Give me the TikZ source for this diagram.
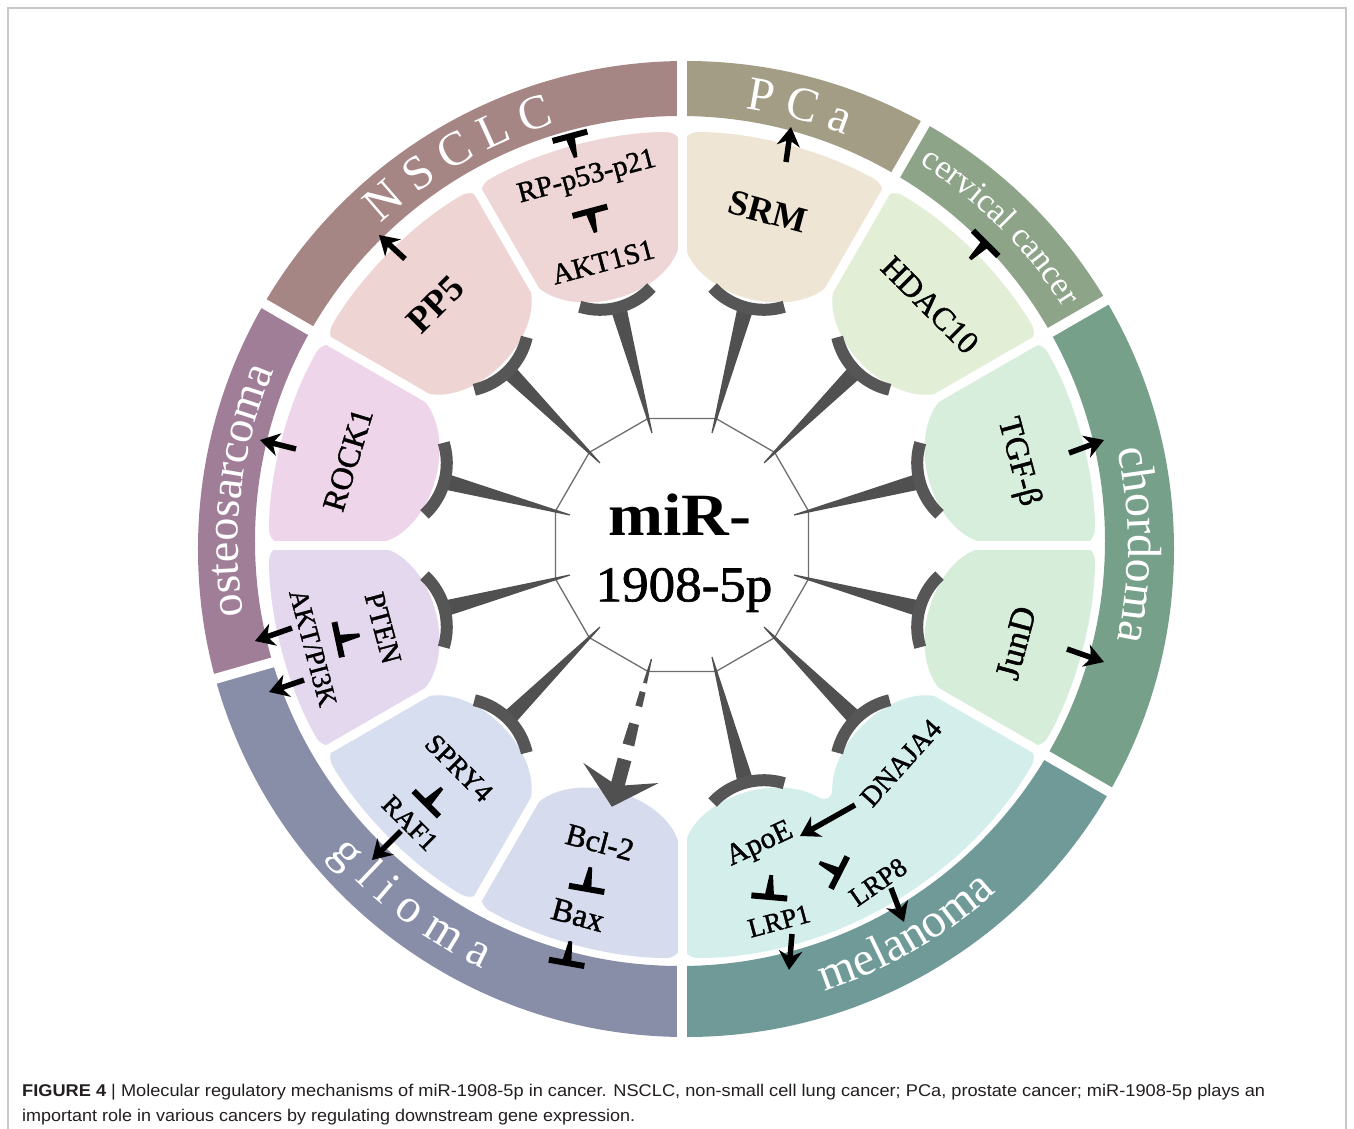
\documentclass[tikz,border=0pt]{standalone}
\usepackage{fontspec}
\setmainfont{Liberation Serif}
\newfontfamily\medfont[FakeBold=1.3]{Liberation Serif}
\newfontfamily\capfont{Liberation Sans}
\usepackage{graphicx}
\usetikzlibrary{arrows.meta,decorations.text}
\definecolor{cNSCLC}{HTML}{A68585}
\definecolor{cPCa}{HTML}{A39D85}
\definecolor{cCerv}{HTML}{8DA489}
\definecolor{cChord}{HTML}{76A08A}
\definecolor{cMel}{HTML}{6F9A98}
\definecolor{cGli}{HTML}{888DA8}
\definecolor{cOst}{HTML}{A07E98}
\definecolor{bPP}{HTML}{EED4D2}
\definecolor{bAKT}{HTML}{EFD6D6}
\definecolor{bSRM}{HTML}{EEE5D4}
\definecolor{bHDAC}{HTML}{E2EED6}
\definecolor{bTGF}{HTML}{D8EEDC}
\definecolor{bJun}{HTML}{D6EED9}
\definecolor{bMel}{HTML}{D4EEEC}
\definecolor{bBcl}{HTML}{D6DBEE}
\definecolor{bSPRY}{HTML}{D7DEF0}
\definecolor{bPTEN}{HTML}{E4D8EE}
\definecolor{bROCK}{HTML}{EED5EA}
\definecolor{spkc}{HTML}{505050}
\definecolor{tbc}{HTML}{565656}
\definecolor{dodc}{HTML}{6E6E6E}
\definecolor{framec}{HTML}{C8C8C8}
\definecolor{captc}{HTML}{231F20}
\newcommand\fsz[1]{\fontsize{#1pt}{#1pt}\selectfont}
\newcommand\bandXL{\fontsize{48pt}{48pt}\selectfont\color{white}}
\newcommand\bandL{\fontsize{46pt}{46pt}\selectfont\color{white}}
\newcommand\bandS{\fontsize{34pt}{34pt}\selectfont\color{white}}
\newcommand\drawblock[2]{\fill[#2,rotate=#1,rounded corners=16pt] (-15:413) arc[start angle=-15,end angle=15,radius=413] -- (15:300.5) arc[start angle=135,end angle=225,radius=110] -- cycle;}
\begin{document}
\begin{tikzpicture}[x=1pt,y=1pt,
  lbl/.style={inner sep=0pt,text=black},
  arw/.style={draw=black,line width=5.5pt,-{Stealth[length=19pt,width=23pt,inset=6pt]}},
  bandtext/.style={decorate,decoration={text along path,text align=center,text={#1}}},
  inh/.pic={\fill[black] (-18pt,5pt) rectangle (18pt,11pt);
            \fill[black] (-4.5pt,6pt) -- (4.5pt,6pt) -- (1.8pt,-14pt) -- (-1.8pt,-14pt) -- cycle;}]
\useasboundingbox (-682,-583) rectangle (672,545);
\fill[white] (-682,-583) rectangle (672,545);

% ---- outer ring bands
\foreach \a/\b/\c in {90/150/cNSCLC,60/90/cPCa,30/60/cCerv,-30/30/cChord,270/330/cMel,196/270/cGli,150/196/cOst}{
  \begin{scope}
    \clip (0,0) -- (\a:700) arc[start angle=\a,end angle=\b,radius=700] -- cycle;
    \fill[\c,even odd rule] (4,-4) circle[radius=488] (-2,4) circle[radius=425];
  \end{scope}
}
\foreach \a in {90,60,30,-30,270,196,150}
  \draw[white,line width=10pt] (\a:415) -- (\a:505);

% ---- blocks
\drawblock{15}{bTGF}
\drawblock{45}{bHDAC}
\drawblock{75}{bSRM}
\drawblock{105}{bAKT}
\drawblock{135}{bPP}
\drawblock{165}{bROCK}
\drawblock{195}{bPTEN}
\drawblock{225}{bSPRY}
\drawblock{255}{bBcl}
\drawblock{345}{bJun}
\fill[bMel,rounded corners=16pt] (270:413) arc[start angle=270,end angle=330,radius=413] -- (330:300.5)
  arc[start angle=450,end angle=540,radius=110] arc[start angle=420,end angle=510,radius=110] -- cycle;
\foreach \a in {0,30,60,90,120,150,180,210,240,270,330}
  \draw[white,line width=9pt] (\a:275) -- (\a:419);

% ---- central dodecagon
\draw[dodc,line width=1.3pt] (15:131) -- (45:131) -- (75:131) -- (105:131) -- (135:131) -- (165:131)
  -- (195:131) -- (225:131) -- (255:131) -- (285:131) -- (315:131) -- (345:131) -- cycle;

% ---- spikes with inhibition bars
\foreach \a in {15,45,75,105,135,165,195,225,285,315,345}{
  \begin{scope}[rotate=\a]
    \fill[spkc] (116,-0.6) -- (246,-8) -- (246,8) -- (116,0.6) -- cycle;
    \draw[tbc,line width=12pt] (256.6,37.1) arc[start angle=148,end angle=212,radius=70];
  \end{scope}
}
% ---- dashed activation arrow to Bcl-2
\begin{scope}[rotate=255]
  \fill[spkc] (118,-0.6) -- (143,-2) -- (143,2) -- (118,0.6) -- cycle;
  \fill[spkc] (152,-3) -- (167,-3.5) -- (167,3.5) -- (152,3) -- cycle;
  \fill[spkc] (185,-5) -- (207,-6) -- (207,6) -- (185,5) -- cycle;
  \fill[spkc] (271,0) -- (236,39) -- (247,7) -- (222,7) -- (222,-7) -- (247,-7) -- (236,-39) -- cycle;
\end{scope}

% ---- band labels
\path[bandtext={|\bandXL|N S C L C}] (150:440) arc[start angle=150,end angle=90,radius=440];
\path[bandtext={|\bandXL|P C a}] (90:441) arc[start angle=90,end angle=60,radius=441];
\path[bandtext={|\bandS|cervical cancer}] (65:449) arc[start angle=65,end angle=25,radius=449];
\path[bandtext={|\bandXL|chordoma}] (30:446) arc[start angle=30,end angle=-30,radius=446];
\path[bandtext={|\bandL|osteosarcoma}] (196:444) arc[start angle=196,end angle=150,radius=444];
\path[bandtext={|\bandXL|g l i o m a}] (196:468) arc[start angle=196,end angle=270,radius=468];
\path[bandtext={|\bandXL|melanoma}] (270:468) arc[start angle=270,end angle=330,radius=468];

% ---- everything placed in image pixel coordinates
\begin{scope}[x=1pt,y=-1pt,shift={(-682pt,545pt)}]
  \draw[framec,line width=1.3pt] (8,1140) -- (8,8) -- (1346,8) -- (1346,1140);

  % centre
  \node[lbl] (mir) at (680,515) {\fsz{60}\bfseries\scalebox{1.1}[1]{miR-}};
  \node[lbl] (num) at (684,590) {\medfont\fsz{50}\scalebox{1.06}[1]{1908-5p}};

  % block labels
  \node[lbl,rotate=45,font=\fsz{37}\bfseries] (pp5) at (436,305) {PP5};
  \node[lbl,rotate=15,font=\medfont\fsz{29}] (akt1s1) at (603,262) {AKT1S1};
  \node[lbl,rotate=15,font=\medfont\fsz{29}] (rp) at (587,178) {RP-p53-p21};
  \node[lbl,rotate=-15,font=\fsz{36}\bfseries] (srm) at (768,212) {SRM};
  \node[lbl,rotate=-45,font=\medfont\fsz{32}] (hdac) at (930,305) {HDAC10};
  \node[lbl,rotate=-75,font=\medfont\fsz{33}] (tgf) at (1018,462) {TGF-β};
  \node[lbl,rotate=75,font=\medfont\fsz{35}] (jund) at (1016,643) {JunD};
  \node[lbl,rotate=48,font=\medfont\fsz{28}] (dnaja) at (901,763) {DNAJA4};
  \node[lbl,rotate=25,font=\medfont\fsz{30}] (apoe) at (760,845) {ApoE};
  \node[lbl,rotate=35,font=\medfont\fsz{27}] (lrp8) at (878,882) {LRP8};
  \node[lbl,rotate=15,font=\medfont\fsz{27}] (lrp1) at (779,921) {LRP1};
  \node[lbl,rotate=-15,font=\medfont\fsz{31}] (bcl) at (600,842) {Bcl-2};
  \node[lbl,rotate=-15,font=\medfont\fsz{33}] (bax) at (578,915) {Bax};
  \node[lbl,rotate=-45,font=\medfont\fsz{28}] (spry) at (459,768) {SPRY4};
  \node[lbl,rotate=-45,font=\medfont\fsz{27}] (raf) at (410,823) {RAF1};
  \node[lbl,rotate=-75,font=\medfont\fsz{29}] (pten) at (383,628) {PTEN};
  \node[lbl,rotate=-75,font=\medfont\fsz{27}] (aktpi) at (313,648) {AKT/PI3K};
  \node[lbl,rotate=73,font=\medfont\fsz{32}] (rock) at (348,460) {ROCK1};

  % small inhibition symbols
  \pic[rotate=15] at (572,144) {inh};
  \pic[rotate=15] at (592,219) {inh};
  \pic[rotate=-45] at (980,249) {inh};
  \pic[rotate=-117] at (832,869) {inh};
  \pic[rotate=175] at (770,889) {inh};
  \pic[rotate=170] at (588,881) {inh};
  \pic[rotate=170] at (568,955) {inh};
  \pic[rotate=135] at (432,798) {inh};
  \pic[rotate=102] at (346,638) {inh};

  % arrow end points
  \coordinate (a1t) at (405,259); \coordinate (a1h) at (379,235);
  \coordinate (a2t) at (786,162); \coordinate (a2h) at (791,127);
  \coordinate (a3t) at (1069,453); \coordinate (a3h) at (1104,440);
  \coordinate (a4t) at (1067,649); \coordinate (a4h) at (1104,662);
  \coordinate (a5t) at (855,805); \coordinate (a5h) at (800,836);
  \coordinate (a6t) at (891,888); \coordinate (a6h) at (904,922);
  \coordinate (a7t) at (792,934); \coordinate (a7h) at (789,970);
  \coordinate (a8t) at (401,831); \coordinate (a8h) at (372,860);
  \coordinate (a9t) at (292,628); \coordinate (a9h) at (255,641);
  \coordinate (a10t) at (304,680); \coordinate (a10h) at (269,692);
  \coordinate (a11t) at (296,449); \coordinate (a11h) at (260,440);
  \draw[arw] (a1t) -- (a1h);
  \draw[arw] (a2t) -- (a2h);
  \draw[arw] (a3t) -- (a3h);
  \draw[arw] (a4t) -- (a4h);
  \draw[arw] (a5t) -- (a5h);
  \draw[arw] (a6t) -- (a6h);
  \draw[arw] (a7t) -- (a7h);
  \draw[arw] (a8t) -- (a8h);
  \draw[arw] (a9t) -- (a9h);
  \draw[arw] (a10t) -- (a10h);
  \draw[arw] (a11t) -- (a11h);

  % caption
  \node[anchor=base west,inner sep=0pt,text=captc] (cap1) at (22,1096)
    {\capfont\fsz{17}\resizebox{1243pt}{\height}{\textbf{FIGURE 4} | Molecular regulatory mechanisms of miR-1908-5p in cancer. NSCLC, non-small cell lung cancer; PCa, prostate cancer; miR-1908-5p plays an}};
  \node[anchor=base west,inner sep=0pt,text=captc] (cap2) at (22,1121)
    {\capfont\fsz{17}\resizebox{613pt}{\height}{important role in various cancers by regulating downstream gene expression.}};
\end{scope}
\end{tikzpicture}
\end{document}
